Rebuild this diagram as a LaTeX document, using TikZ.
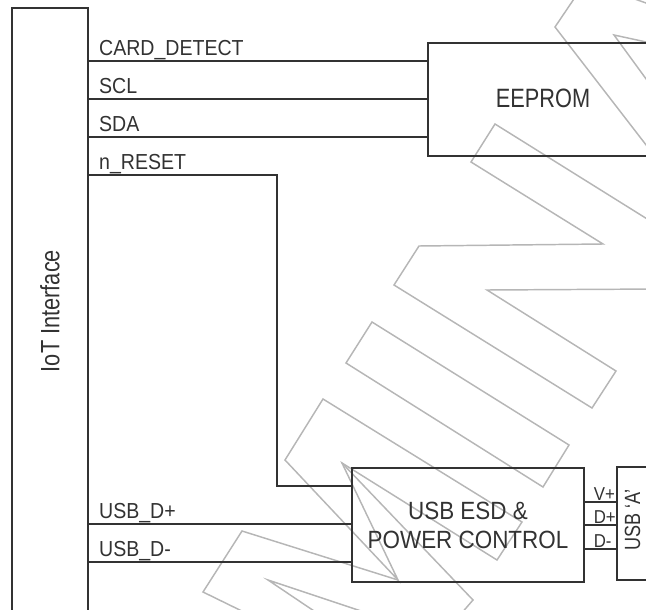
\documentclass[tikz,border=0pt]{standalone}
\usepackage{fontspec}
\setmainfont{Liberation Sans}
\newfontfamily\sigfont[FakeStretch=0.9]{Liberation Sans}
\newfontfamily\boxfont[FakeStretch=0.82]{Liberation Sans}
\definecolor{wirecol}{RGB}{50,50,50}
\definecolor{wmgray}{RGB}{182,182,182}

\begin{document}
\begin{tikzpicture}[x=0.75pt,y=0.75pt,
  wire/.style={draw=wirecol,line width=1.3pt},
  blk/.style={draw=wirecol,line width=1.3pt,inner sep=0pt},
  sig/.style={text=wirecol,font=\sigfont\fontsize{16.3}{18}\selectfont,
    inner sep=0pt,anchor=base west,xshift=7.5pt,yshift=4pt},
  pin/.style={text=wirecol,font=\sigfont\fontsize{14}{15}\selectfont,
    inner sep=0pt,anchor=base west,xshift=6.5pt,yshift=1.5pt},
  big/.style={text=wirecol,font=\boxfont\fontsize{19.9}{22}\selectfont,inner sep=0pt},
  wmline/.style={draw=wmgray,line width=1.1pt,line join=miter}]
  \useasboundingbox (0,0) rectangle (646,-610);
  \clip (0,0) rectangle (646,-610);

  % watermark outline
  \draw[wmline] (580,10) -- (555,-27) -- (660,-163);
  \draw[wmline] (660,-45) -- (614,-35) -- (660,-98);
  \draw[wmline] (632,2) -- (660,-8);
  \draw[wmline] (660,-227) -- (495,-124) -- (471,-162) -- (603,-244) -- (419,-246)
    -- (394,-285) -- (592,-408) -- (616,-371) -- (487,-290) -- (660,-289);
  \draw[wmline] (372,-322) -- (569,-445) -- (543,-487) -- (346,-363) -- cycle;
  \draw[wmline] (398,-580) -- (285,-460) -- (323,-399) -- (522,-522) -- (497,-560)
    -- (342,-463) -- cycle;
  \draw[wmline] (342,-463) -- (473,-600) -- (460,-615);
  \draw[wmline] (250,-615) -- (203,-592) -- (242,-531) -- (398,-580);
  \draw[wmline] (370,-614) -- (268,-580) -- (320,-615);

  % blocks
  \node[blk,minimum width=57pt,minimum height=489pt] (iot) at (50,-334) {};
  \node[blk,minimum width=219pt,minimum height=84.75pt] (eeprom) at (574,-99.5) {};
  \node[blk,minimum width=174pt,minimum height=85.5pt,align=center,text=wirecol,
    font=\sigfont\fontsize{18.7}{21.75}\selectfont] (usbesd) at (468,-525)
    {USB ESD \&\\POWER CONTROL};
  \node[blk,minimum width=32.25pt,minimum height=84.75pt] (usba) at (638.5,-523.5) {};

  \node[big,rotate=90] (iottext) at (50,-311) {IoT Interface};
  \node[big] (eepromtext) at (543,-98.5) {EEPROM};
  \node[big,rotate=90,font=\boxfont\fontsize{16.5}{18}\selectfont] (usbatext) at (632.5,-520) {USB ‘A’};

  % signal rows
  \coordinate (rcd) at (0,-61);
  \coordinate (rscl) at (0,-99);
  \coordinate (rsda) at (0,-137);
  \coordinate (rrst) at (0,-175);
  \coordinate (rstbend) at (277,-486);
  \coordinate (rdp) at (0,-524);
  \coordinate (rdm) at (0,-562);
  \coordinate (rvp) at (0,-502);
  \coordinate (rpp) at (0,-525);
  \coordinate (rpm) at (0,-549);

  \draw[wire] (iot.east |- rcd) -- (eeprom.west |- rcd);
  \draw[wire] (iot.east |- rscl) -- (eeprom.west |- rscl);
  \draw[wire] (iot.east |- rsda) -- (eeprom.west |- rsda);
  \draw[wire] (iot.east |- rrst) -| (rstbend) -- (usbesd.west |- rstbend);
  \draw[wire] (iot.east |- rdp) -- (usbesd.west |- rdp);
  \draw[wire] (iot.east |- rdm) -- (usbesd.west |- rdm);
  \draw[wire] (usbesd.east |- rvp) -- (usba.west |- rvp);
  \draw[wire] (usbesd.east |- rpp) -- (usba.west |- rpp);
  \draw[wire] (usbesd.east |- rpm) -- (usba.west |- rpm);

  \node[sig] (lcd) at (iot.east |- rcd) {CARD\_DETECT};
  \node[sig] (lscl) at (iot.east |- rscl) {SCL};
  \node[sig] (lsda) at (iot.east |- rsda) {SDA};
  \node[sig] (lrst) at (iot.east |- rrst) {n\_RESET};
  \node[sig] (ldp) at (iot.east |- rdp) {USB\_D+};
  \node[sig] (ldm) at (iot.east |- rdm) {USB\_D-};
  \node[pin] (lvp) at (usbesd.east |- rvp) {V+};
  \node[pin] (lpp) at (usbesd.east |- rpp) {D+};
  \node[pin] (lpm) at (usbesd.east |- rpm) {D-};
\end{tikzpicture}
\end{document}
